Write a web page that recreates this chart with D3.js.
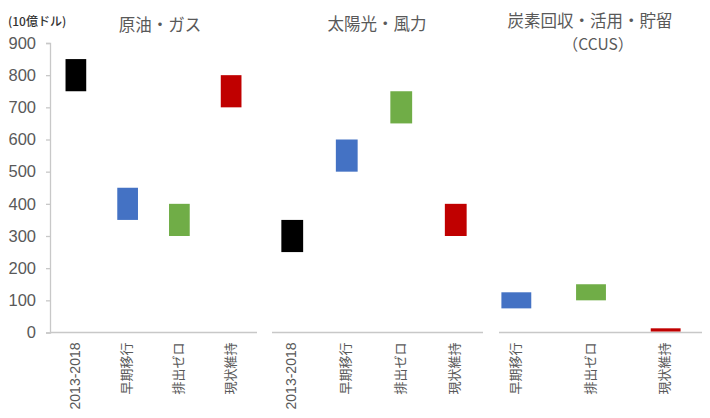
<!DOCTYPE html>
<html><head><meta charset="utf-8">
<script src="https://cdn.jsdelivr.net/npm/d3@7"></script>
<style>body{margin:0;background:#fff}svg{display:block}</style>
</head><body>
<svg id="c" width="710" height="418"></svg>
<script>
// ---- data ----
const panelTitles = ["原油・ガス", "太陽光・風力", "炭素回収・活用・貯留"];
const ccusSubtitle = "（CCUS）";
const unitLabel = "(10億ドル)";
const oilCats = ["2013-2018", "早期移行", "排出ゼロ", "現状維持"];
const oilLow  = [750, 350, 300, 700];
const oilHigh = [850, 450, 400, 800];
const solarCats = ["2013-2018", "早期移行", "排出ゼロ", "現状維持"];
const solarLow  = [250, 500, 650, 300];
const solarHigh = [350, 600, 750, 400];
const ccusCats = ["早期移行", "排出ゼロ", "現状維持"];
const ccusLow  = [75, 100, 3];
const ccusHigh = [125, 150, 13];
const yTicks = [0, 100, 200, 300, 400, 500, 600, 700, 800, 900];
const catColors = {"2013-2018": "#000000", "早期移行": "#4472C4", "排出ゼロ": "#70AD47", "現状維持": "#C00000"};

// ---- layout ----
const svg = d3.select("#c");
const axisColor = "#c8c8c8", textColor = "#595959";
const y = d3.scaleLinear().domain([0, 900]).range([332.5, 43]);

const panels = [
  {cats: oilCats, low: oilLow, high: oilHigh, range: [50, 257], line: [50, 257]},
  {cats: solarCats, low: solarLow, high: solarHigh, range: [265, 483], line: [272, 483]},
  {cats: ccusCats, low: ccusLow, high: ccusHigh, range: [479, 703], line: [499, 702]}
];

// y axis
const yAxis = d3.axisLeft(y).tickValues(yTicks).tickSize(4).tickPadding(10);
const yg = svg.append("g").attr("transform", "translate(50,0)").call(yAxis);
yg.select(".domain").attr("stroke", axisColor).attr("stroke-width", 1.3);
yg.selectAll(".tick line").attr("stroke", axisColor).attr("stroke-width", 1.3);
yg.selectAll(".tick text").attr("fill", textColor)
  .style("font-family", "'Liberation Sans', Arial, sans-serif").style("font-size", "16.5px");

panels.forEach(p => {
  const x = d3.scaleBand().domain(p.cats).range(p.range).padding(0);
  const bw = x.bandwidth() * 0.4;
  // baseline
  svg.append("line").attr("x1", p.line[0]).attr("x2", p.line[1])
    .attr("y1", y(0)).attr("y2", y(0)).attr("stroke", axisColor).attr("stroke-width", 1.5);
  // bars
  svg.append("g").selectAll("rect").data(p.cats).join("rect")
    .attr("x", d => x(d) + x.bandwidth() / 2 - bw / 2)
    .attr("width", bw)
    .attr("y", (d, i) => y(p.high[i]))
    .attr("height", (d, i) => y(p.low[i]) - y(p.high[i]))
    .attr("fill", d => catColors[d]);
  // labels
  svg.append("g").selectAll("text").data(p.cats).join("text")
    .attr("transform", d => `translate(${x(d) + x.bandwidth() / 2 - 1},${y(0) + 10}) rotate(-90)`)
    .attr("text-anchor", "end").attr("dy", "0.35em")
    .attr("fill", textColor)
    .style("font-family", "'Liberation Sans', 'Noto Sans CJK JP', sans-serif")
    .style("font-size", d => /^\d/.test(d) ? "14px" : "13px")
    .text(d => d);
});

// titles
const jp = "'Noto Sans CJK JP', sans-serif";
svg.append("text").attr("x", 8).attr("y", 26).attr("fill", "#333")
  .style("font-family", jp).style("font-size", "12px").style("font-weight", "500").text(unitLabel);
const titlePos = [[160, 31], [377, 30], [590, 27]];
panelTitles.forEach((t, i) => {
  svg.append("text").attr("x", titlePos[i][0]).attr("y", titlePos[i][1])
    .attr("text-anchor", "middle").attr("fill", textColor)
    .style("font-family", jp).style("font-size", "16.5px").text(t);
});
svg.append("text").attr("x", 598).attr("y", 50).attr("text-anchor", "middle").attr("fill", textColor)
  .style("font-family", jp).style("font-size", "15.5px").text(ccusSubtitle);
</script>
</body></html>
